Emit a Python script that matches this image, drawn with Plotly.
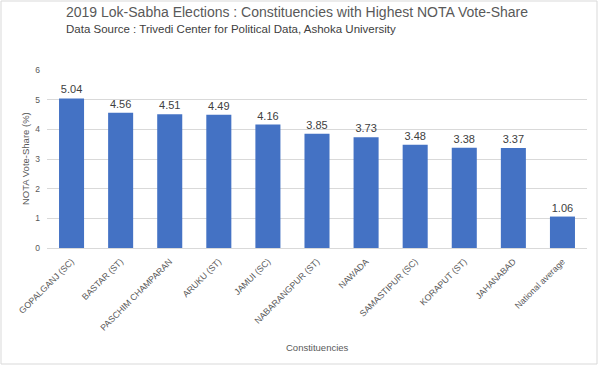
import plotly.graph_objects as go

constituencies = ["GOPALGANJ (SC)", "BASTAR (ST)", "PASCHIM CHAMPARAN", "ARUKU (ST)",
                  "JAMUI (SC)", "NABARANGPUR (ST)", "NAWADA", "SAMASTIPUR (SC)",
                  "KORAPUT (ST)", "JAHANABAD", "National average"]
nota_share = [5.04, 4.56, 4.51, 4.49, 4.16, 3.85, 3.73, 3.48, 3.38, 3.37, 1.06]
y_ticks = [0, 1, 2, 3, 4, 5, 6]

W, H = 600, 366
L, R, T, B = 47, 13, 70, 118
pw, ph = W - L - R, H - T - B

def px_x(p):
    return (p - L) / pw

def px_y(p):
    return (H - B - p) / ph

font = "Liberation Sans"
fig = go.Figure(go.Bar(
    x=constituencies, y=nota_share,
    marker=dict(color="#4472C4", line=dict(width=0)),
    text=[f"{v:.2f}" for v in nota_share], textposition="outside",
    textfont=dict(size=11, color="#404040", family=font),
    cliponaxis=False,
))
fig.update_layout(
    width=W, height=H, margin=dict(l=L, r=R, t=T, b=B, autoexpand=False),
    paper_bgcolor="white", plot_bgcolor="white",
    bargap=0.49, showlegend=False,
    font=dict(family=font, color="#595959"),
    xaxis=dict(tickangle=-45, tickfont=dict(size=8.8, color="#595959"), automargin=False,
               ticklabelstandoff=4,
               showline=True, linecolor="#d9d9d9", linewidth=1, ticks=""),
    yaxis=dict(range=[0, 6], tickvals=y_ticks, tickfont=dict(size=8.5, color="#595959"),
               automargin=False, ticklabelstandoff=6,
               showgrid=True, gridcolor="#d9d9d9", zeroline=False, ticks=""),
    annotations=[
        dict(text="2019 Lok-Sabha Elections : Constituencies with Highest NOTA Vote-Share",
             xref="paper", yref="paper", x=px_x(64), y=px_y(12), xanchor="left", yanchor="middle",
             showarrow=False, font=dict(size=14, color="#595959", family=font)),
        dict(text="Data Source : Trivedi Center for Political Data, Ashoka University",
             xref="paper", yref="paper", x=px_x(64), y=px_y(29), xanchor="left", yanchor="middle",
             showarrow=False, font=dict(size=11.5, color="#404040", family=font)),
        dict(text="Constituencies", xref="paper", yref="paper", x=px_x(317), y=px_y(347),
             xanchor="center", yanchor="middle", showarrow=False,
             font=dict(size=9.5, color="#595959", family=font)),
        dict(text="NOTA Vote-Share (%)", xref="paper", yref="paper", x=px_x(25), y=px_y(159),
             xanchor="center", yanchor="middle", textangle=-90, showarrow=False,
             font=dict(size=9.5, color="#595959", family=font)),
    ],
    shapes=[dict(type="rect", xref="paper", yref="paper",
                 x0=px_x(1), x1=px_x(597), y0=px_y(364), y1=px_y(1),
                 line=dict(color="#d9d9d9", width=1))],
)
fig.write_html("out.html", config={"displayModeBar": False},
               post_script="document.body.style.margin='0';")
